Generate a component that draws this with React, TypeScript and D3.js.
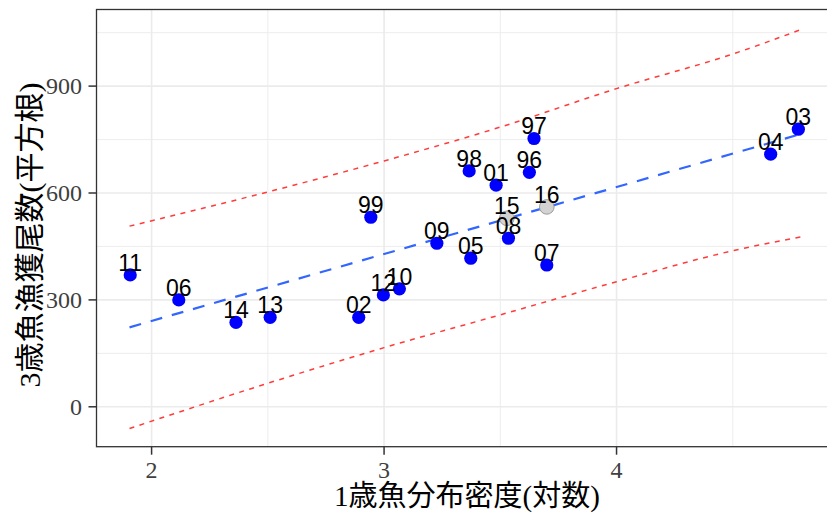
import React from "react";
import * as d3 from "d3";

// ---- data ----
const years = ["11", "06", "14", "13", "02", "12", "10", "99", "09", "05", "98", "01", "97", "96", "08", "07", "04", "03"];
const density = [1.908, 2.117, 2.363, 2.51, 2.891, 2.997, 3.066, 2.943, 3.227, 3.373, 3.366, 3.482, 3.645, 3.625, 3.535, 3.7, 4.663, 4.782];
const catchSqrt = [370, 300, 237, 251, 251, 314, 331, 532, 459, 417, 662, 622, 753, 658, 473, 398, 709, 779];

const newYears = ["15", "16"];
const newDensity = [3.528, 3.7];
const newCatch = [529, 561];

const fitX = [1.905, 4.795];
const fitY = [223, 766];

const bandX = [1.905, 2.5, 3.0, 3.5, 4.0, 4.5, 4.795];
const bandUpper = [507, 603, 690, 785, 893, 990, 1059];
const bandLower = [-61, 66, 166, 258, 351, 438, 477];

const xTicks = [2, 3, 4];
const xMinor = [2.5, 3.5, 4.5];
const yTicks = [0, 300, 600, 900];
const yMinor = [150, 450, 750, 1050];

const xTitle = "1歳魚分布密度(対数)";
const yTitle = "3歳魚漁獲尾数(平方根)";

// ---- layout ----
const W = 827;
const H = 513;
const left = 96.5;
const right = 836;
const top = 9.5;
const bottom = 446.7;

export default function App() {
  const x = d3.scaleLinear().domain([1.763, 4.944]).range([left, right]);
  const y = d3.scaleLinear().domain([-112, 1115]).range([bottom, top]);

  const line = d3
    .line<[number, number]>()
    .x((d) => x(d[0]))
    .y((d) => y(d[1]))
    .curve(d3.curveMonotoneX);

  const fitPts = fitX.map((v, i) => [v, fitY[i]] as [number, number]);
  const upPts = bandX.map((v, i) => [v, bandUpper[i]] as [number, number]);
  const loPts = bandX.map((v, i) => [v, bandLower[i]] as [number, number]);

  const serif = "'Liberation Serif', 'Times New Roman', serif";
  const sans = "'Liberation Sans', Arial, sans-serif";
  const titleFont = "'Liberation Serif', 'Noto Sans CJK JP', serif";

  return (
    <svg
      width={W}
      height={H}
      style={{ position: "absolute", left: 0, top: 0, background: "#fff" }}
    >
      <defs>
        <clipPath id="panel">
          <rect x={left} y={top} width={right - left} height={bottom - top} />
        </clipPath>
      </defs>
      <rect x={0} y={0} width={W} height={H} fill="#fff" />
      {/* grid */}
      <g clipPath="url(#panel)">
        {xMinor.map((t) => (
          <line key={"xm" + t} x1={x(t)} x2={x(t)} y1={top} y2={bottom} stroke="#EBEBEB" strokeWidth={0.9} />
        ))}
        {yMinor.map((t) => (
          <line key={"ym" + t} x1={left} x2={right} y1={y(t)} y2={y(t)} stroke="#EBEBEB" strokeWidth={0.9} />
        ))}
        {xTicks.map((t) => (
          <line key={"xg" + t} x1={x(t)} x2={x(t)} y1={top} y2={bottom} stroke="#EBEBEB" strokeWidth={1.6} />
        ))}
        {yTicks.map((t) => (
          <line key={"yg" + t} x1={left} x2={right} y1={y(t)} y2={y(t)} stroke="#EBEBEB" strokeWidth={1.6} />
        ))}
        {/* prediction band */}
        <path d={line(upPts) || ""} fill="none" stroke="#FF3B3B" strokeWidth={1.5} strokeDasharray="5,5.5" />
        <path d={line(loPts) || ""} fill="none" stroke="#FF3B3B" strokeWidth={1.5} strokeDasharray="5,5.5" />
        {/* fit */}
        <path d={line(fitPts) || ""} fill="none" stroke="#3366FF" strokeWidth={2.2} strokeDasharray="12,10" />
        {/* points */}
        {density.map((d, i) => (
          <circle key={"p" + i} cx={x(d)} cy={y(catchSqrt[i])} r={6.6} fill="#0000FF" />
        ))}
        {newDensity.map((d, i) => (
          <circle key={"n" + i} cx={x(d)} cy={y(newCatch[i])} r={7.3} fill="#D3D3D3" stroke="#9A9A9A" strokeWidth={1} />
        ))}
        {/* labels */}
        {density.map((d, i) => (
          <text key={"l" + i} x={x(d)} y={y(catchSqrt[i]) - 4} textAnchor="middle" fontFamily={sans} fontSize={23} fill="#000">
            {years[i]}
          </text>
        ))}
        {newDensity.map((d, i) => (
          <text key={"nl" + i} x={x(d)} y={y(newCatch[i]) - 4} textAnchor="middle" fontFamily={sans} fontSize={23} fill="#000">
            {newYears[i]}
          </text>
        ))}
      </g>
      {/* panel border */}
      <rect x={left} y={top} width={right - left} height={bottom - top} fill="none" stroke="#333" strokeWidth={1.3} />
      {/* ticks */}
      {xTicks.map((t) => (
        <g key={"xt" + t}>
          <line x1={x(t)} x2={x(t)} y1={bottom} y2={bottom + 8} stroke="#333" strokeWidth={1.5} />
          <text x={x(t)} y={478} textAnchor="middle" fontFamily={serif} fontSize={24} fill="#404040">
            {t}
          </text>
        </g>
      ))}
      {yTicks.map((t) => (
        <g key={"yt" + t}>
          <line x1={left - 8} x2={left} y1={y(t)} y2={y(t)} stroke="#333" strokeWidth={1.5} />
          <text x={82} y={y(t) + 8} textAnchor="end" fontFamily={serif} fontSize={24} fill="#404040">
            {t}
          </text>
        </g>
      ))}
      {/* titles */}
      <text x={467} y={506} textAnchor="middle" fontFamily={titleFont} fontSize={29} fill="#000">
        {xTitle}
      </text>
      <text
        transform={`translate(40, 235) rotate(-90)`}
        textAnchor="middle"
        fontFamily={titleFont}
        fontSize={30}
        fill="#000"
      >
        {yTitle}
      </text>
    </svg>
  );
}
